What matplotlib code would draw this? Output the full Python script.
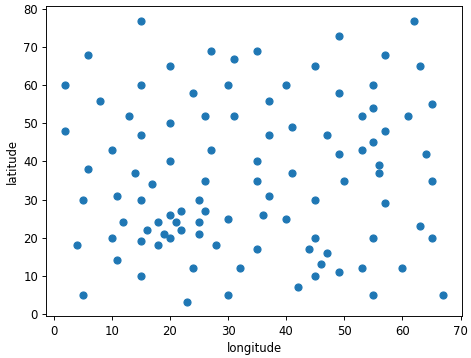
import matplotlib
matplotlib.use("Agg")
import matplotlib.pyplot as plt

longitude = [2, 2, 4, 5, 5, 6, 6, 8, 10, 10, 11, 11, 12, 13, 14,
             15, 15, 15, 15, 15, 15, 16, 17, 18, 18, 19, 20, 20, 20, 20, 20,
             21, 22, 22, 23, 24, 24, 25, 25, 25, 26, 26, 26, 27, 27, 28,
             30, 30, 30, 31, 31, 32, 35, 35, 35, 35, 36, 37, 37, 37,
             40, 40, 41, 41, 42, 44, 45, 45, 45, 45, 46, 47, 47,
             49, 49, 49, 49, 50, 53, 53, 53, 55, 55, 55, 55, 55, 56, 56,
             57, 57, 57, 60, 61, 62, 63, 63, 64, 65, 65, 65, 67]
latitude = [60, 48, 18, 30, 5, 68, 38, 56, 43, 20, 31, 14, 24, 52, 37,
            77, 60, 47, 30, 19, 10, 22, 34, 24, 18, 21, 65, 50, 40, 26, 20,
            24, 27, 22, 3, 58, 12, 30, 24, 21, 52, 35, 27, 69, 43, 18,
            60, 25, 5, 67, 52, 12, 69, 40, 35, 17, 26, 56, 47, 31,
            60, 25, 49, 37, 7, 17, 65, 30, 20, 10, 13, 47, 16,
            73, 58, 42, 11, 35, 52, 43, 12, 60, 54, 45, 20, 5, 39, 37,
            68, 48, 29, 12, 52, 77, 65, 23, 42, 55, 35, 20, 5]

DPI = 84
fig = plt.figure(figsize=(472 / DPI, 358 / DPI), dpi=DPI)
ax = fig.add_axes([0.098, 0.116, 0.881, 0.866])
ax.scatter(longitude, latitude)
ax.set_xlabel("longitude")
ax.set_ylabel("latitude")
fig.savefig("out.png", dpi=DPI)
